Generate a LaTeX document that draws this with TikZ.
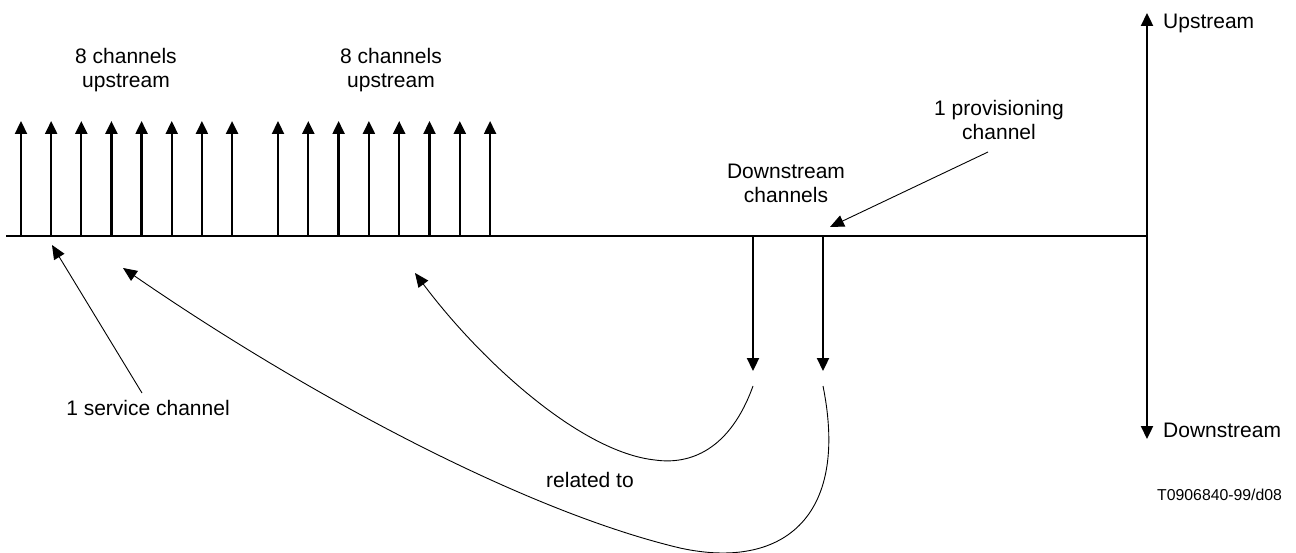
\documentclass[tikz,border=0pt]{standalone}
\usepackage{fontspec}
\setmainfont{Liberation Sans}
\usetikzlibrary{arrows.meta}

\begin{document}
\begin{tikzpicture}[x=1pt,y=-1pt,
	chan/.style={line width=2.3pt,-{Triangle[length=13pt,width=12pt]}},
	ptr/.style={line width=0.9pt,-{Triangle[length=14pt,width=12pt]}},
	lbl/.style={font=\fontsize{21}{24}\selectfont,align=center,inner sep=0pt}]
	\useasboundingbox (0,0) rectangle (1296,553);
	% frequency axis
	\coordinate (axl) at (6,236);
	\coordinate (axr) at (1147,236);
	\coordinate (up) at (1147,13);
	\coordinate (down) at (1147,439);
	\draw [line width=2.3pt] (axl) -- (axr);
	\draw [chan] (axr) -- (up);
	\draw [chan] (axr) -- (down);
	\node [lbl,anchor=west] (uplbl) at (1163,23) {Upstream};
	\node [lbl,anchor=west] (downlbl) at (1163,430) {Downstream};
	% upstream channels
	\foreach \i in {0,...,7} {
		\coordinate (a\i) at (21+30.15*\i,236);
		\coordinate (ua\i) at (21+30.15*\i,121);
		\draw [chan] (a\i) -- (ua\i);
		\coordinate (b\i) at (278+30.3*\i,236);
		\coordinate (ub\i) at (278+30.3*\i,121);
		\draw [chan] (b\i) -- (ub\i);
	}
	\node [lbl] (grpa) at (126,70) {8 channels\\upstream};
	\node [lbl] (grpb) at (391,70) {8 channels\\upstream};
	% downstream channels
	\coordinate (d1) at (753,236);
	\coordinate (d2) at (823,236);
	\coordinate (e1) at (753,371);
	\coordinate (e2) at (823,371);
	\draw [chan] (d1) -- (e1);
	\draw [chan] (d2) -- (e2);
	\node [lbl] (dslbl) at (786,183.5) {Downstream\\channels};
	% pointers
	\node [lbl] (prov) at (999,119.5) {1 provisioning\\channel};
	\coordinate (provtail) at (988,152);
	\coordinate (provtip) at (830,227);
	\draw [ptr] (provtail) -- (provtip);
	\node [lbl] (serv) at (148,408) {1 service channel};
	\coordinate (servtail) at (142,393);
	\coordinate (servtip) at (52,245);
	\draw [ptr] (servtail) -- (servtip);
	% relations
	\coordinate (c1) at (753,386);
	\coordinate (c2) at (823,386);
	\coordinate (t1) at (415,273);
	\coordinate (t2) at (123,268);
	\draw [ptr] (c1) .. controls (730,450) and (690,465) .. (655,460)
		.. controls (580,452) and (480,360) .. (t1);
	\draw [ptr] (c2) .. controls (850,520) and (780,570) .. (680,548)
		.. controls (520,510) and (300,390) .. (t2);
	\node [lbl] (rel) at (590,480) {related to};
	\node [font=\fontsize{15.8}{18}\selectfont,inner sep=0pt,anchor=west] (code) at (1157,495) {T0906840-99/d08};
\end{tikzpicture}
\end{document}
